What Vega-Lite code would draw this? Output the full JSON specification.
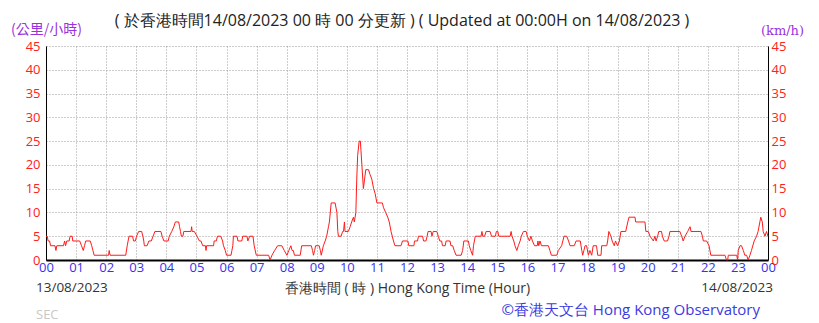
{
  "$schema": "https://vega.github.io/schema/vega-lite/v6.json",
  "width": 722,
  "height": 214,
  "autosize": "none",
  "padding": {"left": 46, "top": 46, "right": 51, "bottom": 63},
  "background": "#ffffff",
  "config": {
    "view": {"stroke": null},
    "font": "Open Sans",
    "axisX": {
      "grid": true, "gridColor": "#9a9a9a", "gridDash": [1, 2], "gridWidth": 1,
      "domainColor": "#000000", "domainWidth": 2, "ticks": false,
      "labelColor": "#3333ee", "labelFont": "Open Sans", "labelFontSize": 13,
      "labelPadding": 1, "labelDx": -2, "labelFlush": false, "labelOverlap": false,
      "titleFont": "Open Sans", "titleFontSize": 14, "titleFontWeight": "normal",
      "titleColor": "#333333", "titleY": 28, "titleBaseline": "middle"
    }
  },
  "title": {
    "text": "( 於香港時間14/08/2023 00 時 00 分更新 )  ( Updated at 00:00H on 14/08/2023 )",
    "anchor": "middle",
    "font": "Open Sans",
    "fontSize": 16,
    "fontWeight": "normal",
    "color": "#222222",
    "offset": 8,
    "dy": 15,
    "dx": -5
  },
  "datasets": {
    "wind": [
      {"hour": 0.00, "speed": 5}, {"hour": 0.04, "speed": 5}, {"hour": 0.07, "speed": 4}, {"hour": 0.12, "speed": 4},
      {"hour": 0.15, "speed": 3}, {"hour": 0.30, "speed": 3}, {"hour": 0.33, "speed": 2}, {"hour": 0.36, "speed": 3},
      {"hour": 0.58, "speed": 3}, {"hour": 0.62, "speed": 4}, {"hour": 0.65, "speed": 3}, {"hour": 0.69, "speed": 4},
      {"hour": 0.77, "speed": 4}, {"hour": 0.80, "speed": 5}, {"hour": 0.87, "speed": 5}, {"hour": 0.89, "speed": 4},
      {"hour": 1.12, "speed": 4}, {"hour": 1.18, "speed": 3}, {"hour": 1.24, "speed": 2}, {"hour": 1.28, "speed": 3},
      {"hour": 1.32, "speed": 4}, {"hour": 1.47, "speed": 4}, {"hour": 1.52, "speed": 3}, {"hour": 1.56, "speed": 2},
      {"hour": 1.60, "speed": 1}, {"hour": 2.08, "speed": 1}, {"hour": 2.10, "speed": 2}, {"hour": 2.13, "speed": 1},
      {"hour": 2.65, "speed": 1}, {"hour": 2.70, "speed": 3}, {"hour": 2.76, "speed": 5}, {"hour": 2.88, "speed": 5},
      {"hour": 2.91, "speed": 4}, {"hour": 2.97, "speed": 4}, {"hour": 3.01, "speed": 5}, {"hour": 3.08, "speed": 6},
      {"hour": 3.18, "speed": 6}, {"hour": 3.22, "speed": 5}, {"hour": 3.25, "speed": 4}, {"hour": 3.27, "speed": 3},
      {"hour": 3.36, "speed": 3}, {"hour": 3.42, "speed": 4}, {"hour": 3.50, "speed": 4}, {"hour": 3.56, "speed": 5},
      {"hour": 3.62, "speed": 6}, {"hour": 3.82, "speed": 6}, {"hour": 3.86, "speed": 5}, {"hour": 3.92, "speed": 4},
      {"hour": 4.06, "speed": 4}, {"hour": 4.10, "speed": 5}, {"hour": 4.18, "speed": 6}, {"hour": 4.25, "speed": 7},
      {"hour": 4.30, "speed": 8}, {"hour": 4.41, "speed": 8}, {"hour": 4.44, "speed": 7}, {"hour": 4.47, "speed": 6},
      {"hour": 4.50, "speed": 5}, {"hour": 4.55, "speed": 5}, {"hour": 4.58, "speed": 6}, {"hour": 4.82, "speed": 6},
      {"hour": 4.84, "speed": 7}, {"hour": 4.86, "speed": 6}, {"hour": 4.93, "speed": 6}, {"hour": 5.02, "speed": 5},
      {"hour": 5.10, "speed": 4}, {"hour": 5.15, "speed": 4}, {"hour": 5.21, "speed": 3}, {"hour": 5.30, "speed": 3},
      {"hour": 5.32, "speed": 2}, {"hour": 5.34, "speed": 3}, {"hour": 5.57, "speed": 3}, {"hour": 5.59, "speed": 4},
      {"hour": 5.66, "speed": 4}, {"hour": 5.70, "speed": 5}, {"hour": 5.81, "speed": 5}, {"hour": 5.87, "speed": 4},
      {"hour": 5.90, "speed": 3}, {"hour": 5.96, "speed": 2}, {"hour": 6.00, "speed": 1}, {"hour": 6.15, "speed": 1},
      {"hour": 6.18, "speed": 2}, {"hour": 6.21, "speed": 3}, {"hour": 6.23, "speed": 5}, {"hour": 6.35, "speed": 5},
      {"hour": 6.38, "speed": 4}, {"hour": 6.51, "speed": 4}, {"hour": 6.54, "speed": 5}, {"hour": 6.68, "speed": 5},
      {"hour": 6.71, "speed": 4}, {"hour": 6.77, "speed": 5}, {"hour": 6.88, "speed": 5}, {"hour": 6.92, "speed": 3},
      {"hour": 6.99, "speed": 1}, {"hour": 7.40, "speed": 1}, {"hour": 7.45, "speed": 0}, {"hour": 7.51, "speed": 1},
      {"hour": 7.60, "speed": 2}, {"hour": 7.70, "speed": 3}, {"hour": 7.84, "speed": 3}, {"hour": 7.92, "speed": 2},
      {"hour": 8.01, "speed": 1}, {"hour": 8.07, "speed": 2}, {"hour": 8.14, "speed": 3}, {"hour": 8.18, "speed": 2},
      {"hour": 8.22, "speed": 2}, {"hour": 8.26, "speed": 1}, {"hour": 8.45, "speed": 1}, {"hour": 8.50, "speed": 3},
      {"hour": 8.82, "speed": 3}, {"hour": 8.86, "speed": 2}, {"hour": 8.89, "speed": 1}, {"hour": 8.93, "speed": 2},
      {"hour": 8.96, "speed": 3}, {"hour": 9.08, "speed": 3}, {"hour": 9.12, "speed": 2}, {"hour": 9.15, "speed": 1},
      {"hour": 9.22, "speed": 3}, {"hour": 9.28, "speed": 4}, {"hour": 9.33, "speed": 5}, {"hour": 9.39, "speed": 7},
      {"hour": 9.42, "speed": 8}, {"hour": 9.48, "speed": 12}, {"hour": 9.61, "speed": 12}, {"hour": 9.67, "speed": 10},
      {"hour": 9.70, "speed": 6}, {"hour": 9.72, "speed": 5}, {"hour": 9.81, "speed": 5}, {"hour": 9.86, "speed": 6},
      {"hour": 9.89, "speed": 6}, {"hour": 9.92, "speed": 8}, {"hour": 9.94, "speed": 6}, {"hour": 10.05, "speed": 6},
      {"hour": 10.11, "speed": 7}, {"hour": 10.16, "speed": 8}, {"hour": 10.22, "speed": 9}, {"hour": 10.25, "speed": 8},
      {"hour": 10.30, "speed": 10}, {"hour": 10.33, "speed": 17}, {"hour": 10.36, "speed": 22}, {"hour": 10.41, "speed": 25},
      {"hour": 10.45, "speed": 25}, {"hour": 10.47, "speed": 23}, {"hour": 10.50, "speed": 20}, {"hour": 10.55, "speed": 15},
      {"hour": 10.59, "speed": 17}, {"hour": 10.63, "speed": 19}, {"hour": 10.72, "speed": 19}, {"hour": 10.77, "speed": 18},
      {"hour": 10.83, "speed": 17}, {"hour": 10.89, "speed": 15}, {"hour": 10.94, "speed": 14}, {"hour": 11.00, "speed": 12},
      {"hour": 11.18, "speed": 12}, {"hour": 11.22, "speed": 11}, {"hour": 11.29, "speed": 10}, {"hour": 11.36, "speed": 9},
      {"hour": 11.41, "speed": 8}, {"hour": 11.47, "speed": 6}, {"hour": 11.55, "speed": 4}, {"hour": 11.60, "speed": 3},
      {"hour": 11.80, "speed": 3}, {"hour": 11.85, "speed": 4}, {"hour": 12.03, "speed": 4}, {"hour": 12.06, "speed": 3},
      {"hour": 12.23, "speed": 3}, {"hour": 12.25, "speed": 4}, {"hour": 12.35, "speed": 4}, {"hour": 12.38, "speed": 5},
      {"hour": 12.52, "speed": 5}, {"hour": 12.55, "speed": 4}, {"hour": 12.63, "speed": 4}, {"hour": 12.67, "speed": 5},
      {"hour": 12.70, "speed": 6}, {"hour": 12.80, "speed": 6}, {"hour": 12.83, "speed": 5}, {"hour": 12.87, "speed": 6},
      {"hour": 12.99, "speed": 6}, {"hour": 13.04, "speed": 5}, {"hour": 13.09, "speed": 4}, {"hour": 13.15, "speed": 4},
      {"hour": 13.18, "speed": 3}, {"hour": 13.27, "speed": 3}, {"hour": 13.30, "speed": 4}, {"hour": 13.43, "speed": 4},
      {"hour": 13.46, "speed": 3}, {"hour": 13.52, "speed": 3}, {"hour": 13.57, "speed": 2}, {"hour": 13.63, "speed": 1},
      {"hour": 13.80, "speed": 1}, {"hour": 13.85, "speed": 2}, {"hour": 13.89, "speed": 4}, {"hour": 14.04, "speed": 4},
      {"hour": 14.07, "speed": 3}, {"hour": 14.12, "speed": 2}, {"hour": 14.18, "speed": 1}, {"hour": 14.21, "speed": 3},
      {"hour": 14.27, "speed": 5}, {"hour": 14.46, "speed": 5}, {"hour": 14.49, "speed": 6}, {"hour": 14.52, "speed": 5},
      {"hour": 14.58, "speed": 5}, {"hour": 14.63, "speed": 6}, {"hour": 14.76, "speed": 6}, {"hour": 14.81, "speed": 5},
      {"hour": 14.94, "speed": 5}, {"hour": 14.97, "speed": 6}, {"hour": 15.02, "speed": 6}, {"hour": 15.05, "speed": 5},
      {"hour": 15.43, "speed": 5}, {"hour": 15.46, "speed": 6}, {"hour": 15.49, "speed": 5}, {"hour": 15.55, "speed": 4},
      {"hour": 15.59, "speed": 3}, {"hour": 15.65, "speed": 2}, {"hour": 15.70, "speed": 3}, {"hour": 15.76, "speed": 4},
      {"hour": 15.80, "speed": 5}, {"hour": 15.87, "speed": 6}, {"hour": 15.96, "speed": 6}, {"hour": 16.00, "speed": 5},
      {"hour": 16.07, "speed": 4}, {"hour": 16.12, "speed": 5}, {"hour": 16.17, "speed": 4}, {"hour": 16.24, "speed": 3},
      {"hour": 16.33, "speed": 3}, {"hour": 16.35, "speed": 4}, {"hour": 16.38, "speed": 3}, {"hour": 16.42, "speed": 4},
      {"hour": 16.47, "speed": 3}, {"hour": 16.70, "speed": 3}, {"hour": 16.75, "speed": 2}, {"hour": 16.80, "speed": 1},
      {"hour": 16.98, "speed": 1}, {"hour": 17.03, "speed": 2}, {"hour": 17.14, "speed": 3}, {"hour": 17.22, "speed": 5},
      {"hour": 17.31, "speed": 5}, {"hour": 17.37, "speed": 4}, {"hour": 17.42, "speed": 3}, {"hour": 17.56, "speed": 3},
      {"hour": 17.62, "speed": 4}, {"hour": 17.76, "speed": 4}, {"hour": 17.81, "speed": 2}, {"hour": 17.84, "speed": 1},
      {"hour": 17.88, "speed": 2}, {"hour": 17.92, "speed": 3}, {"hour": 17.97, "speed": 3}, {"hour": 18.03, "speed": 1},
      {"hour": 18.08, "speed": 2}, {"hour": 18.14, "speed": 1}, {"hour": 18.19, "speed": 3}, {"hour": 18.30, "speed": 3},
      {"hour": 18.34, "speed": 1}, {"hour": 18.45, "speed": 1}, {"hour": 18.47, "speed": 3}, {"hour": 18.64, "speed": 3},
      {"hour": 18.67, "speed": 4}, {"hour": 18.71, "speed": 6}, {"hour": 18.78, "speed": 5}, {"hour": 18.82, "speed": 4},
      {"hour": 18.89, "speed": 3}, {"hour": 18.93, "speed": 4}, {"hour": 19.00, "speed": 3}, {"hour": 19.06, "speed": 4},
      {"hour": 19.11, "speed": 6}, {"hour": 19.27, "speed": 6}, {"hour": 19.34, "speed": 8}, {"hour": 19.38, "speed": 9},
      {"hour": 19.58, "speed": 9}, {"hour": 19.60, "speed": 8}, {"hour": 19.91, "speed": 8}, {"hour": 19.94, "speed": 6},
      {"hour": 20.02, "speed": 6}, {"hour": 20.08, "speed": 5}, {"hour": 20.19, "speed": 4}, {"hour": 20.24, "speed": 5},
      {"hour": 20.28, "speed": 4}, {"hour": 20.33, "speed": 5}, {"hour": 20.37, "speed": 6}, {"hour": 20.46, "speed": 6},
      {"hour": 20.49, "speed": 5}, {"hour": 20.55, "speed": 4}, {"hour": 20.66, "speed": 4}, {"hour": 20.71, "speed": 5},
      {"hour": 20.74, "speed": 6}, {"hour": 21.07, "speed": 6}, {"hour": 21.13, "speed": 5}, {"hour": 21.18, "speed": 4},
      {"hour": 21.24, "speed": 5}, {"hour": 21.33, "speed": 6}, {"hour": 21.41, "speed": 7}, {"hour": 21.44, "speed": 6},
      {"hour": 21.77, "speed": 6}, {"hour": 21.82, "speed": 5}, {"hour": 21.85, "speed": 4}, {"hour": 21.96, "speed": 4},
      {"hour": 22.04, "speed": 3}, {"hour": 22.10, "speed": 1}, {"hour": 22.57, "speed": 1}, {"hour": 22.62, "speed": 0},
      {"hour": 22.66, "speed": 0}, {"hour": 22.68, "speed": 1}, {"hour": 22.96, "speed": 1}, {"hour": 22.99, "speed": 0},
      {"hour": 23.01, "speed": 2}, {"hour": 23.07, "speed": 3}, {"hour": 23.12, "speed": 3}, {"hour": 23.18, "speed": 2},
      {"hour": 23.23, "speed": 1}, {"hour": 23.29, "speed": 1}, {"hour": 23.34, "speed": 0}, {"hour": 23.40, "speed": 1},
      {"hour": 23.45, "speed": 2}, {"hour": 23.54, "speed": 4}, {"hour": 23.62, "speed": 5}, {"hour": 23.67, "speed": 6},
      {"hour": 23.73, "speed": 8}, {"hour": 23.76, "speed": 9}, {"hour": 23.81, "speed": 8}, {"hour": 23.84, "speed": 6},
      {"hour": 23.90, "speed": 5}, {"hour": 23.95, "speed": 6}, {"hour": 24.00, "speed": 5}
    ],
    "notes": [
      {"hour": 0, "kind": "startdate", "text": "13/08/2023"},
      {"hour": 24, "kind": "enddate", "text": "14/08/2023"},
      {"hour": 24, "kind": "credit", "text": "©香港天文台 Hong Kong Observatory"},
      {"hour": 0, "kind": "sec", "text": "SEC"}
    ]
  },
  "resolve": {"axis": {"y": "independent"}},
  "layer": [
    {
      "data": {"name": "wind"},
      "mark": {"type": "line", "color": "#ff1a1a", "strokeWidth": 1, "interpolate": "linear"},
      "encoding": {
        "x": {
          "field": "hour", "type": "quantitative",
          "scale": {"domain": [0, 24], "nice": false, "zero": false},
          "axis": {
            "values": [0,1,2,3,4,5,6,7,8,9,10,11,12,13,14,15,16,17,18,19,20,21,22,23,24],
            "labelExpr": "(datum.value % 24 < 10 ? '0' : '') + (datum.value % 24)",
            "title": "香港時間 ( 時 ) Hong Kong Time (Hour)"
          }
        },
        "y": {
          "field": "speed", "type": "quantitative",
          "scale": {"domain": [0, 45], "nice": false},
          "axis": {
            "orient": "left",
            "values": [0,5,10,15,20,25,30,35,40,45],
            "grid": true, "gridColor": "#9a9a9a", "gridDash": [1, 2], "gridWidth": 1,
            "domainColor": "#000000", "ticks": false,
            "labelColor": "#ff2020", "labelFont": "Open Sans", "labelFontSize": 13, "labelPadding": 6,
            "title": "(公里/小時)", "titleAngle": 0, "titleX": 0, "titleY": -17,
            "titleAlign": "center", "titleBaseline": "middle",
            "titleColor": "#9933dd", "titleFont": "Noto Sans CJK TC", "titleFontSize": 14, "titleFontWeight": "normal"
          }
        }
      }
    },
    {
      "data": {"name": "wind"},
      "mark": {"type": "point", "opacity": 0},
      "encoding": {
        "x": {
          "field": "hour", "type": "quantitative",
          "axis": {
            "values": [0,1,2,3,4,5,6,7,8,9,10,11,12,13,14,15,16,17,18,19,20,21,22,23,24],
            "labelExpr": "(datum.value % 24 < 10 ? '0' : '') + (datum.value % 24)",
            "title": "香港時間 ( 時 ) Hong Kong Time (Hour)"
          }
        },
        "y": {
          "field": "speed", "type": "quantitative",
          "scale": {"domain": [0, 45], "nice": false},
          "axis": {
            "orient": "right",
            "values": [0,5,10,15,20,25,30,35,40,45],
            "grid": false, "domainColor": "#000000", "ticks": false,
            "labelColor": "#ff2020", "labelFont": "Open Sans", "labelFontSize": 13, "labelPadding": 3,
            "title": "(km/h)", "titleAngle": 0, "titleX": 14, "titleY": -16,
            "titleAlign": "center", "titleBaseline": "middle",
            "titleColor": "#9933dd", "titleFont": "DejaVu Serif", "titleFontSize": 13, "titleFontWeight": "normal"
          }
        }
      }
    },
    {
      "data": {"name": "notes"},
      "transform": [{"filter": "datum.kind === 'startdate'"}],
      "mark": {"type": "text", "align": "left", "baseline": "middle", "dx": -10, "dy": 28, "fontSize": 13.5, "font": "Open Sans", "color": "#333333"},
      "encoding": {
        "x": {"field": "hour", "type": "quantitative", "axis": {"values": [0,1,2,3,4,5,6,7,8,9,10,11,12,13,14,15,16,17,18,19,20,21,22,23,24], "labelExpr": "(datum.value % 24 < 10 ? '0' : '') + (datum.value % 24)", "title": "香港時間 ( 時 ) Hong Kong Time (Hour)"}},
        "y": {"datum": 0, "type": "quantitative", "axis": null}, "text": {"field": "text"}}
    },
    {
      "data": {"name": "notes"},
      "transform": [{"filter": "datum.kind === 'enddate'"}],
      "mark": {"type": "text", "align": "right", "baseline": "middle", "dx": 5, "dy": 28, "fontSize": 13.5, "font": "Open Sans", "color": "#333333"},
      "encoding": {
        "x": {"field": "hour", "type": "quantitative", "axis": {"values": [0,1,2,3,4,5,6,7,8,9,10,11,12,13,14,15,16,17,18,19,20,21,22,23,24], "labelExpr": "(datum.value % 24 < 10 ? '0' : '') + (datum.value % 24)", "title": "香港時間 ( 時 ) Hong Kong Time (Hour)"}},
        "y": {"datum": 0, "type": "quantitative", "axis": null}, "text": {"field": "text"}}
    },
    {
      "data": {"name": "notes"},
      "transform": [{"filter": "datum.kind === 'credit'"}],
      "mark": {"type": "text", "align": "right", "baseline": "middle", "dx": -8, "dy": 50, "fontSize": 15, "font": "Open Sans", "color": "#3b3bdf"},
      "encoding": {
        "x": {"field": "hour", "type": "quantitative", "axis": {"values": [0,1,2,3,4,5,6,7,8,9,10,11,12,13,14,15,16,17,18,19,20,21,22,23,24], "labelExpr": "(datum.value % 24 < 10 ? '0' : '') + (datum.value % 24)", "title": "香港時間 ( 時 ) Hong Kong Time (Hour)"}},
        "y": {"datum": 0, "type": "quantitative", "axis": null}, "text": {"field": "text"}}
    },
    {
      "data": {"name": "notes"},
      "transform": [{"filter": "datum.kind === 'sec'"}],
      "mark": {"type": "text", "align": "left", "baseline": "middle", "dx": -10, "dy": 55, "fontSize": 13, "font": "Open Sans", "color": "#c8c8c8"},
      "encoding": {
        "x": {"field": "hour", "type": "quantitative", "axis": {"values": [0,1,2,3,4,5,6,7,8,9,10,11,12,13,14,15,16,17,18,19,20,21,22,23,24], "labelExpr": "(datum.value % 24 < 10 ? '0' : '') + (datum.value % 24)", "title": "香港時間 ( 時 ) Hong Kong Time (Hour)"}},
        "y": {"datum": 0, "type": "quantitative", "axis": null}, "text": {"field": "text"}}
    }
  ]
}
